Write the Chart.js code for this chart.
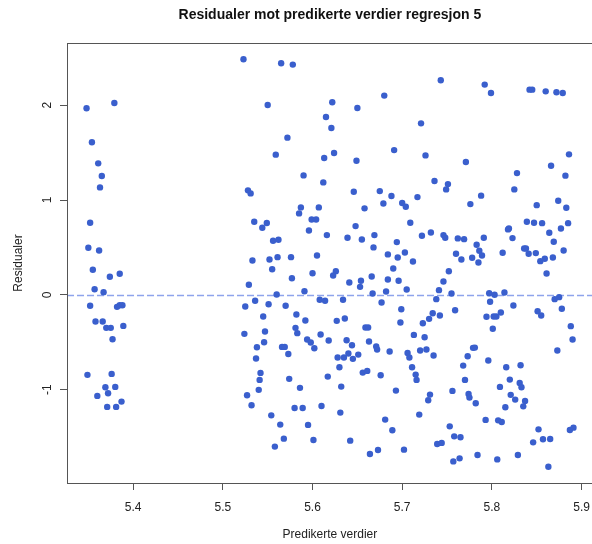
<!DOCTYPE html>
<html>
<head>
<meta charset="utf-8">
<script src="https://cdn.jsdelivr.net/npm/chart.js@4.4.1/dist/chart.umd.min.js"></script>
<style>
html,body{margin:0;padding:0;overflow:hidden;background:#ffffff;}
canvas{display:block;}
</style>
</head>
<body>
<canvas id="c" width="600" height="544" style="width:600px;height:544px"></canvas>
<script>
const titleText = "Residualer mot predikerte verdier regresjon 5";
const xLabel = "Predikerte verdier";
const yLabel = "Residualer";
const xTicks = [5.4, 5.5, 5.6, 5.7, 5.8, 5.9];
const yTicks = [-1, 0, 1, 2];
const xRange = [5.3262, 5.9125];
const yRange = [-1.986, 2.657];
const refLine = 0;

// predicted values (x) and residuals (y), same order
const fitted = [
  5.348,5.379,5.354,5.361,5.365,5.363,5.352,5.350,5.362,5.355,5.374,5.385,5.357,5.367,5.352,5.382,5.385,5.388,5.358,5.366,5.370,5.375,5.389,5.377,5.349,5.376,5.369,5.380,5.360,5.372,5.387,5.371,5.381,
  5.523,5.565,5.578,5.550,5.615,5.572,5.559,5.613,5.590,5.612,5.528,5.531,5.587,5.607,5.585,5.535,5.549,5.599,5.604,5.544,5.596,5.616,5.556,5.562,5.533,5.552,5.561,5.576,5.605,5.555,5.600,5.577,
  5.529,5.560,5.591,5.536,5.525,5.551,5.570,5.608,5.614,5.545,5.582,5.592,5.524,5.547,5.581,5.583,5.609,5.538,5.546,5.566,5.569,5.573,5.594,5.598,5.602,5.618,5.537,5.542,5.541,5.540,5.527,5.532,5.574,5.586,5.617,5.554,5.580,5.589,5.610,5.564,5.595,5.568,5.601,5.558,
  5.622,5.621,5.650,5.680,5.743,5.721,5.624,5.649,5.691,5.726,5.646,5.675,5.688,5.679,5.658,5.700,5.704,5.717,5.736,5.751,5.749,5.709,5.648,5.639,5.655,5.669,5.668,5.694,5.722,5.732,5.746,5.748,5.760,5.684,5.695,5.703,5.712,5.690,5.626,5.623,5.752,5.666,
  5.641,5.654,5.653,5.684,5.696,5.746,5.667,5.682,5.705,5.741,5.755,5.634,5.677,5.738,5.759,5.699,5.734,5.742,5.730,5.723,5.698,5.627,5.636,5.659,5.662,5.638,5.644,5.663,5.671,5.672,5.686,5.713,5.725,5.706,5.708,5.720,5.727,5.735,5.628,5.635,5.640,5.645,5.651,5.630,5.656,5.661,5.676,5.711,5.715,5.716,5.632,5.693,5.731,5.729,5.756,5.631,5.681,5.719,5.689,5.753,5.758,5.642,5.739,5.744,5.673,5.664,5.702,5.757,5.764,
  5.792,5.799,5.842,5.845,5.860,5.872,5.879,5.886,5.866,5.882,5.771,5.828,5.825,5.788,5.776,5.850,5.874,5.883,5.839,5.847,5.856,5.885,5.877,5.864,5.869,5.818,5.819,5.823,5.762,5.769,5.791,5.783,5.786,5.789,5.766,5.778,5.785,5.812,5.836,5.838,5.841,5.849,5.854,5.859,5.868,5.880,5.861,
  5.797,5.803,5.814,5.798,5.824,5.870,5.875,5.878,5.794,5.802,5.805,5.810,5.851,5.855,5.801,5.888,5.890,5.873,5.779,5.781,5.773,5.768,5.796,5.816,5.832,5.770,5.820,5.831,5.833,5.809,5.774,5.775,5.782,5.821,5.826,5.837,5.835,5.815,5.793,5.807,5.811,5.765,5.852,5.846,5.857,5.865,5.887,5.891,5.784,5.806,5.829,5.863
];
const residuals = [
  1.968,2.024,1.609,1.387,1.253,1.133,0.760,0.496,0.468,0.264,0.190,0.222,0.059,0.028,-0.116,-0.127,-0.110,-0.110,-0.282,-0.282,-0.349,-0.349,-0.328,-0.469,-0.845,-0.835,-0.976,-0.972,-1.067,-1.039,-1.127,-1.183,-1.183,
  2.485,2.443,2.429,2.003,1.876,1.658,1.479,1.443,1.260,1.186,1.102,1.070,0.922,0.922,0.859,0.771,0.757,0.795,0.795,0.707,0.679,0.630,0.570,0.581,0.362,0.373,0.397,0.397,0.415,0.270,0.228,0.175,
  0.106,0.003,0.038,-0.063,-0.124,-0.099,-0.116,-0.053,-0.063,-0.229,-0.208,-0.271,-0.412,-0.388,-0.349,-0.405,-0.419,-0.553,-0.500,-0.550,-0.550,-0.624,-0.472,-0.504,-0.564,-0.483,-0.673,-0.824,-0.898,-1.003,-1.060,-1.166,-0.887,-0.982,-0.863,-1.272,-1.194,-1.194,-1.173,-1.370,-1.373,-1.518,-1.532,-1.602,
  2.031,1.760,1.971,2.102,2.264,1.809,1.496,1.415,1.527,1.471,1.088,1.094,1.042,0.964,0.912,0.968,0.929,1.031,1.200,1.168,1.112,0.760,0.725,0.602,0.584,0.630,0.500,0.556,0.623,0.658,0.630,0.602,0.433,0.426,0.394,0.447,0.352,0.278,0.249,0.204,0.249,0.193,
  0.130,0.148,0.084,0.162,0.148,0.140,0.014,0.035,0.056,0.049,0.014,-0.053,-0.081,-0.046,-0.163,-0.152,-0.194,-0.219,-0.254,-0.300,-0.293,-0.275,-0.250,-0.345,-0.345,-0.480,-0.532,-0.493,-0.546,-0.578,-0.599,-0.423,-0.448,-0.613,-0.662,-0.588,-0.578,-0.641,-0.662,-0.662,-0.620,-0.676,-0.631,-0.765,-0.821,-0.803,-0.849,-0.765,-0.842,-0.898,-0.969,-1.011,-1.053,-1.113,-1.014,-1.243,-1.317,-1.264,-1.430,-1.388,-1.494,-1.539,-1.574,-1.563,-1.637,-1.680,-1.634,-1.758,-1.726,
  2.218,2.130,2.165,2.165,2.147,2.137,2.130,1.482,1.362,1.257,1.401,1.284,1.112,1.046,0.957,0.946,0.993,0.919,0.771,0.760,0.756,0.756,0.700,0.655,0.560,0.690,0.700,0.598,0.595,0.587,0.602,0.528,0.465,0.415,0.373,0.391,0.341,0.444,0.489,0.489,0.433,0.440,0.355,0.380,0.394,0.468,0.225,
  0.017,0.000,0.024,-0.074,-0.113,-0.046,-0.025,-0.148,-0.232,-0.229,-0.229,-0.187,-0.173,-0.219,-0.359,-0.331,-0.472,-0.588,-0.560,-0.557,-0.648,-0.747,-0.694,-0.765,-0.744,-0.898,-0.895,-0.930,-0.976,-0.972,-1.046,-1.085,-1.145,-1.056,-1.106,-1.120,-1.177,-1.187,-1.320,-1.325,-1.342,-1.504,-1.420,-1.557,-1.525,-1.521,-1.426,-1.402,-1.690,-1.737,-1.690,-1.814
];

const FONT = '"Liberation Sans", Arial, Helvetica, sans-serif';
const AXIS_COL = '#555555';
const TEXT_COL = '#222222';

const rStyle = {
  id: 'rStyle',
  beforeDatasetsDraw(chart) {
    const {ctx, chartArea: a, scales: {y}} = chart;
    const py = Math.round(y.getPixelForValue(refLine)) + 0.5;
    ctx.save();
    ctx.strokeStyle = '#8ea4ec';
    ctx.lineWidth = 1.3;
    ctx.setLineDash([7, 3]);
    ctx.beginPath();
    ctx.moveTo(a.left, py);
    ctx.lineTo(a.right, py);
    ctx.stroke();
    ctx.restore();
  },
  afterDraw(chart) {
    const {ctx, chartArea: a, scales: {y}} = chart;
    ctx.save();
    // box
    ctx.strokeStyle = AXIS_COL;
    ctx.lineWidth = 1;
    ctx.strokeRect(Math.round(a.left) + 0.5, Math.round(a.top) + 0.5,
                   Math.round(a.right - a.left), Math.round(a.bottom - a.top));
    // rotated y tick labels (R style)
    ctx.fillStyle = TEXT_COL;
    ctx.font = '12px ' + FONT;
    ctx.textAlign = 'center';
    ctx.textBaseline = 'middle';
    yTicks.forEach(v => {
      const py = y.getPixelForValue(v);
      ctx.save();
      ctx.translate(48, py);
      ctx.rotate(-Math.PI / 2);
      ctx.fillText(String(v), 0, 0);
      ctx.restore();
    });
    // main title
    ctx.font = 'bold 14px ' + FONT;
    ctx.fillStyle = '#111111';
    ctx.fillText(titleText, (a.left + a.right) / 2, 15);
    ctx.restore();
  }
};

const points = fitted.map((x, i) => ({x: x, y: residuals[i]}));

new Chart(document.getElementById('c'), {
  type: 'scatter',
  data: {
    datasets: [{
      data: points,
      backgroundColor: '#3A5FCD',
      borderWidth: 0,
      pointRadius: 3.2,
      pointHoverRadius: 3.2
    }]
  },
  options: {
    responsive: false,
    devicePixelRatio: 1,
    animation: false,
    events: [],
    layout: { padding: { top: 43, right: 4.8, left: 0, bottom: 0 } },
    plugins: { legend: { display: false }, tooltip: { enabled: false }, title: { display: false } },
    scales: {
      x: {
        type: 'linear',
        position: 'bottom',
        min: xRange[0],
        max: xRange[1],
        afterBuildTicks: s => { s.ticks = xTicks.map(v => ({value: v})); },
        afterFit: s => { s.height = 61; },
        border: { display: false },
        grid: { display: true, drawOnChartArea: false, drawTicks: true, tickLength: 7, color: AXIS_COL, lineWidth: 1 },
        ticks: {
          padding: 10,
          color: TEXT_COL,
          font: { family: FONT, size: 12 },
          maxRotation: 0,
          autoSkip: false,
          callback: v => v.toFixed(1)
        },
        title: { display: true, text: xLabel, color: TEXT_COL, font: { family: FONT, size: 12 }, padding: { top: 0, bottom: 2 } }
      },
      y: {
        type: 'linear',
        position: 'left',
        min: yRange[0],
        max: yRange[1],
        afterBuildTicks: s => { s.ticks = yTicks.map(v => ({value: v})); },
        afterFit: s => { s.width = 67; },
        border: { display: false },
        grid: { display: true, drawOnChartArea: false, drawTicks: true, tickLength: 7, color: AXIS_COL, lineWidth: 1 },
        ticks: { display: false },
        title: { display: true, text: yLabel, color: TEXT_COL, font: { family: FONT, size: 12 }, padding: { top: 11, bottom: 0 } }
      }
    }
  },
  plugins: [rStyle]
});
</script>
</body>
</html>
